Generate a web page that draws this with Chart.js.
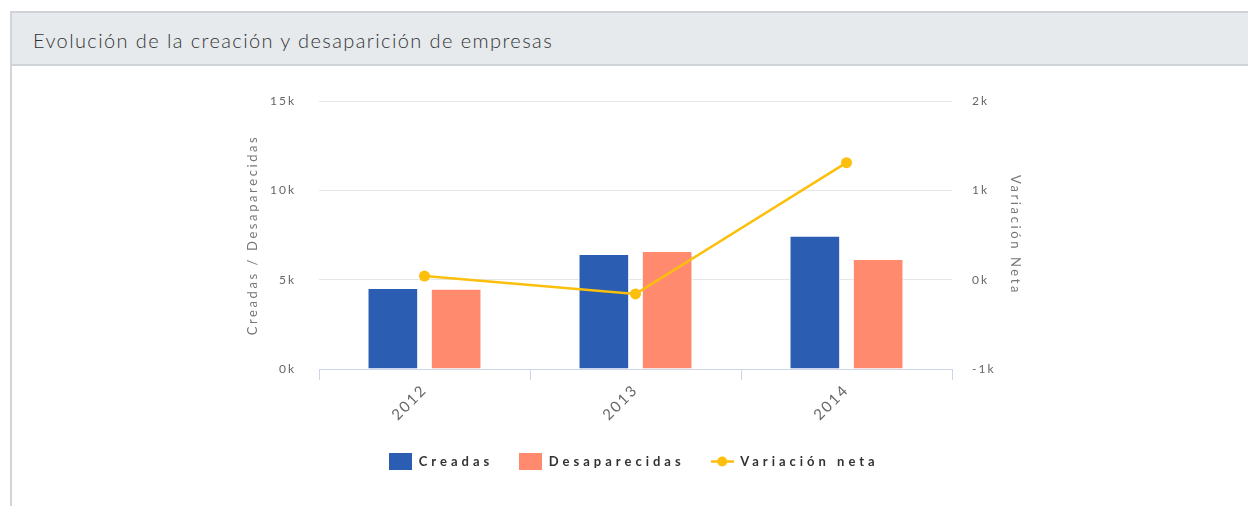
<!DOCTYPE html>
<html>
<head>
<meta charset="utf-8">
<script src="https://cdn.jsdelivr.net/npm/chart.js@4.4.1/dist/chart.umd.min.js"></script>
<style>
  html, body { margin: 0; padding: 0; background: #ffffff; width: 1248px; height: 506px; overflow: hidden; }
  #panel { position: absolute; left: 10px; top: 11px; width: 1238px; height: 495px; border-left: 2px solid #d1d5d9; box-sizing: border-box; }
  #header { position: absolute; left: 0; top: 0; width: 1236px; height: 55px; background: #e6eaed; border-top: 2px solid #cfd3d7; border-bottom: 2px solid #cfd3d7; box-sizing: border-box; }
  #header span { position: absolute; left: 21px; top: 15px; font-family: Lato, sans-serif; font-size: 20px; font-weight: 300; color: #333333; letter-spacing: 1.4px; }
  #c { position: absolute; left: 12px; top: 67px; }
</style>
</head>
<body>
<div id="panel"><div id="header"><span>Evolución de la creación y desaparición de empresas</span></div></div>
<canvas id="c" width="1236" height="439" style="width:1236px;height:439px"></canvas>
<script>
const years = ['2012', '2013', '2014'];
const creadas = [4530, 6440, 7460];
const desaparecidas = [4490, 6600, 6150];
const variacionNeta = [40, -160, 1310];
const seriesNames = ['Creadas', 'Desaparecidas', 'Variación neta'];
const leftTicks = [0, 5000, 10000, 15000];
const rightTicks = [-1000, 0, 1000, 2000];

const COL_BLUE = '#2b5db2';
const COL_SALMON = '#ff8a6e';
const COL_GOLD = '#fcbf0b';

function legendIcon(kind, color) {
  const cv = document.createElement('canvas');
  cv.width = 23; cv.height = 17;
  const g = cv.getContext('2d');
  if (kind === 'rect') {
    g.fillStyle = color; g.fillRect(0, 0, 23, 17);
  } else {
    g.strokeStyle = color; g.lineWidth = 2.5;
    g.beginPath(); g.moveTo(0, 8.5); g.lineTo(23, 8.5); g.stroke();
    g.fillStyle = color; g.beginPath(); g.arc(11.5, 8.5, 5, 0, Math.PI * 2); g.fill();
  }
  return cv;
}
const icons = [legendIcon('rect', COL_BLUE), legendIcon('rect', COL_SALMON), legendIcon('line', COL_GOLD)];

function withSpacing(obj, name, sp) {
  if (!obj || !obj[name] || obj['_w_' + name]) return;
  obj['_w_' + name] = true;
  const orig = obj[name].bind(obj);
  obj[name] = function (...args) {
    const c = this.ctx; const o = c.letterSpacing; c.letterSpacing = sp;
    const r = orig(...args); c.letterSpacing = o; return r;
  };
}

const spacingPlugin = {
  id: 'spacing',
  beforeUpdate(chart) {
    chart.ctx.letterSpacing = '2px';
    const L = chart.legend;
    if (L && !L._wrapped) {
      L._wrapped = true;
      const f = L.fit.bind(L);
      L.fit = function () {
        const c = this.ctx; const o = c.letterSpacing; c.letterSpacing = '4px'; f(); c.letterSpacing = o;
        this.height = 58;
      };
      withSpacing(L, 'draw', '4px');
    }
  },
  beforeLayout(chart) { chart.ctx.letterSpacing = '2px'; },
  beforeDraw(chart) {
    chart.ctx.letterSpacing = '2px';
    ['y', 'y1'].forEach(id => withSpacing(chart.scales[id], 'drawTitle', '2.6px'));
  }
};

Chart.defaults.font.family = 'Lato, sans-serif';
Chart.defaults.color = '#666666';

new Chart(document.getElementById('c'), {
  type: 'bar',
  data: {
    labels: years,
    datasets: [
      { type: 'bar', label: seriesNames[0], data: creadas, backgroundColor: COL_BLUE, borderColor: '#ffffff', borderWidth: 1, yAxisID: 'y', order: 1, categoryPercentage: 0.6, barPercentage: 0.8 },
      { type: 'bar', label: seriesNames[1], data: desaparecidas, backgroundColor: COL_SALMON, borderColor: '#ffffff', borderWidth: 1, yAxisID: 'y', order: 1, categoryPercentage: 0.6, barPercentage: 0.8 },
      { type: 'line', label: seriesNames[2], data: variacionNeta, borderColor: COL_GOLD, backgroundColor: COL_GOLD, borderWidth: 2.5, pointRadius: 5.5, pointBackgroundColor: COL_GOLD, pointBorderWidth: 0, tension: 0, yAxisID: 'y1', order: 0 }
    ]
  },
  options: {
    responsive: false,
    animation: false,
    events: [],
    layout: { padding: { left: 229, right: 221, top: 34, bottom: 19 } },
    plugins: {
      tooltip: { enabled: false },
      title: { display: false },
      legend: {
        position: 'bottom',
        labels: {
          usePointStyle: true,
          pointStyleWidth: 23,
          boxWidth: 23,
          boxHeight: 13,
          padding: 26,
          color: '#333333',
          font: { size: 13, weight: 'bold' },
          sort: (a, b) => a.datasetIndex - b.datasetIndex,
          generateLabels(chart) {
            const items = Chart.defaults.plugins.legend.labels.generateLabels(chart);
            items.forEach(it => { it.pointStyle = icons[it.datasetIndex]; it.lineWidth = 0; });
            return items;
          }
        }
      }
    },
    scales: {
      x: {
        offset: true,
        grid: { display: true, offset: true, drawOnChartArea: false, drawTicks: true, tickLength: 11, color: '#ccd6eb', lineWidth: 1 },
        border: { display: true, color: '#ccd6eb', width: 1 },
        ticks: { minRotation: 45, maxRotation: 45, padding: 1, color: '#666666', font: { size: 15 } },
        afterFit(s) { s.height = 60; }
      },
      y: {
        position: 'left',
        min: 0, max: 15000,
        afterBuildTicks(s) { s.ticks = leftTicks.map(v => ({ value: v })); },
        grid: { color: '#e6e6e6', lineWidth: 1, drawTicks: false },
        border: { display: false },
        ticks: { padding: 23, color: '#666666', font: { size: 12 }, callback: v => (v / 1000) + 'k' },
        title: { display: true, text: 'Creadas / Desaparecidas', color: '#777777', font: { size: 13 }, padding: { top: 4, bottom: 4 } },
        afterFit(s) { s.width = 78; }
      },
      y1: {
        position: 'right',
        min: -1000, max: 2000,
        afterBuildTicks(s) { s.ticks = rightTicks.map(v => ({ value: v })); },
        grid: { drawOnChartArea: false, drawTicks: false },
        border: { display: false },
        ticks: { padding: 20, color: '#666666', font: { size: 12 }, callback: v => (v / 1000) + 'k' },
        title: { display: true, text: 'Variación Neta', color: '#777777', font: { size: 13 }, padding: { top: 4, bottom: 4 } },
        afterFit(s) { s.width = 75; }
      }
    }
  },
  plugins: [spacingPlugin]
});
</script>
</body>
</html>
